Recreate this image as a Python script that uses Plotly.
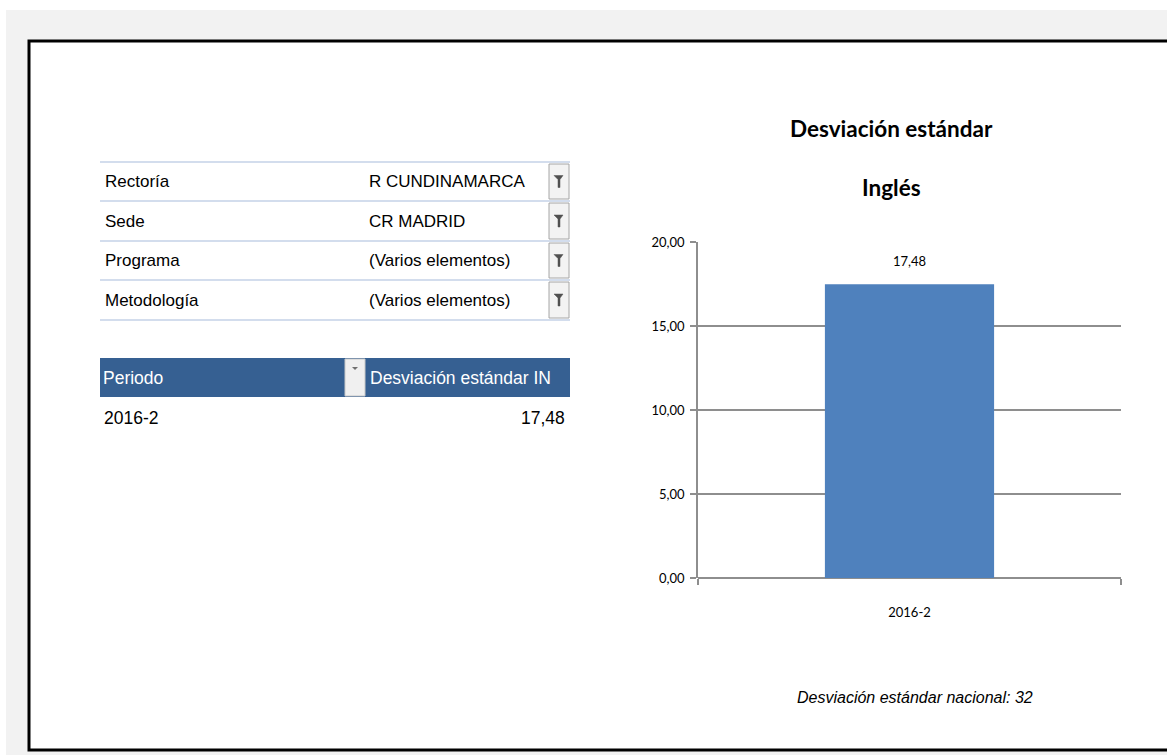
import plotly.graph_objects as go

# data
periods = ["2016-2"]
std_dev = [17.48]
filter_fields = ["Rectoría", "Sede", "Programa", "Metodología"]
filter_values = ["R CUNDINAMARCA", "CR MADRID", "(Varios elementos)", "(Varios elementos)"]
header_labels = ["Periodo", "Desviación estándar IN"]
national_std = 32
chart_title = ["Desviación estándar", "Inglés"]

W, H = 1167, 755
# plot area in page pixels
L, R, T, B = 698, 1121, 242, 578

FONT = "Liberation Sans Narrow, Arial Narrow, Liberation Sans, Arial"
CFONT = "Lato, Liberation Sans, Arial"
GRID = "#8e8e8e"


def px(x):
    return (x - L) / (R - L)


def py(y):
    return (B - y) / (B - T)


def fmt(v):
    return f"{v:.2f}".replace(".", ",")


fig = go.Figure(go.Bar(x=periods, y=std_dev, width=0.4,
                       marker=dict(color="#4f81bd", line=dict(width=0)),
                       hoverinfo="skip"))

shapes = []
ann = []

# grey window background + black framed sheet
shapes.append(dict(type="rect", xref="paper", yref="paper", layer="below",
                   x0=px(6), x1=px(W + 5), y0=py(10), y1=py(H + 5),
                   fillcolor="#f2f2f2", line=dict(width=0)))
shapes.append(dict(type="rect", xref="paper", yref="paper", layer="below",
                   x0=px(29), x1=px(W + 10), y0=py(41), y1=py(750),
                   fillcolor="white", line=dict(color="black", width=3)))

# report filter area
line_ys = [162, 201, 241, 280, 320]
for y in line_ys:
    shapes.append(dict(type="line", xref="paper", yref="paper",
                       x0=px(100), x1=px(570), y0=py(y), y1=py(y),
                       line=dict(color="#d3dded", width=2)))
for i, (name, val) in enumerate(zip(filter_fields, filter_values)):
    yc = (line_ys[i] + line_ys[i + 1]) / 2
    ann.append(dict(xref="paper", yref="paper", x=px(103), y=py(yc),
                    text=name, showarrow=False, xanchor="left", yanchor="middle",
                    font=dict(family=FONT, size=17, color="black")))
    ann.append(dict(xref="paper", yref="paper", x=px(367), y=py(yc),
                    text=val, showarrow=False, xanchor="left", yanchor="middle",
                    font=dict(family=FONT, size=17, color="black")))
    # filter button
    shapes.append(dict(type="rect", xref="paper", yref="paper",
                       x0=px(549), x1=px(569), y0=py(line_ys[i] + 2), y1=py(line_ys[i + 1] - 2),
                       fillcolor="#f3f3f3", line=dict(color="#a6a6a6", width=1)))
    cx = 559
    path = (f"M {px(cx - 5)},{py(yc - 6)} L {px(cx + 4)},{py(yc - 6)} L {px(cx + 1)},{py(yc - 2)} "
            f"L {px(cx + 1)},{py(yc + 6)} L {px(cx - 1)},{py(yc + 6)} L {px(cx - 1)},{py(yc - 2)} Z")
    shapes.append(dict(type="path", xref="paper", yref="paper", path=path,
                       fillcolor="#505050", line=dict(color="#505050", width=0.5)))

# pivot table header
shapes.append(dict(type="rect", xref="paper", yref="paper",
                   x0=px(100), x1=px(570), y0=py(358), y1=py(397),
                   fillcolor="#366092", line=dict(width=0)))
shapes.append(dict(type="rect", xref="paper", yref="paper",
                   x0=px(345), x1=px(365), y0=py(359), y1=py(396),
                   fillcolor="#f0f0f0", line=dict(color="#c8c8c8", width=1)))
shapes.append(dict(type="path", xref="paper", yref="paper",
                   path=f"M {px(352)},{py(367)} L {px(358)},{py(367)} L {px(355)},{py(370)} Z",
                   fillcolor="#707070", line=dict(width=0)))
ann.append(dict(xref="paper", yref="paper", x=px(101), y=py(378), text=header_labels[0],
                showarrow=False, xanchor="left", yanchor="middle",
                font=dict(family=FONT, size=17.5, color="white")))
ann.append(dict(xref="paper", yref="paper", x=px(368), y=py(378), text=header_labels[1],
                showarrow=False, xanchor="left", yanchor="middle",
                font=dict(family=FONT, size=17.5, color="white")))
for i, (p, v) in enumerate(zip(periods, std_dev)):
    yc = 418 + 40 * i
    ann.append(dict(xref="paper", yref="paper", x=px(102), y=py(yc), text=p,
                    showarrow=False, xanchor="left", yanchor="middle",
                    font=dict(family=FONT, size=17.5, color="black")))
    ann.append(dict(xref="paper", yref="paper", x=px(567), y=py(yc), text=fmt(v),
                    showarrow=False, xanchor="right", yanchor="middle",
                    font=dict(family=FONT, size=17.5, color="black")))

# chart title (two lines)
for txt, yc in zip(chart_title, [128, 188]):
    ann.append(dict(xref="paper", yref="paper", x=px(891), y=py(yc), text=f"<b>{txt}</b>",
                    showarrow=False, xanchor="center", yanchor="middle",
                    font=dict(family=CFONT, size=22.5, color="black")))

# data labels
for p, v in zip(periods, std_dev):
    ann.append(dict(x=p, y=v, text=fmt(v), showarrow=False, yshift=23,
                    xanchor="center", yanchor="middle",
                    font=dict(family=CFONT, size=13, color="black")))

# national reference note
ann.append(dict(xref="paper", yref="paper", x=px(915), y=py(697),
                text=f"<i>Desviación estándar nacional: {national_std}</i>",
                showarrow=False, xanchor="center", yanchor="middle",
                font=dict(family=FONT, size=16, color="black")))

fig.update_layout(
    width=W, height=H, autosize=False,
    margin=dict(l=L, r=W - R, t=T, b=H - B, pad=0),
    paper_bgcolor="white", plot_bgcolor="white",
    separators=",.",
    showlegend=False,
    shapes=shapes, annotations=ann,
    xaxis=dict(type="category", range=[-0.5, 0.5], automargin=False,
               showgrid=False, showline=False, zeroline=False,
               ticks="outside", tickson="boundaries", ticklen=6, tickcolor=GRID, tickwidth=1.5,
               ticklabelstandoff=25,
               tickfont=dict(family=CFONT, size=13, color="black")),
    yaxis=dict(range=[0, 20], dtick=5, tickformat=".2f", automargin=False,
               showgrid=True, gridcolor=GRID, gridwidth=1.8,
               showline=True, linecolor=GRID, linewidth=1.8,
               zeroline=True, zerolinecolor=GRID, zerolinewidth=1.8,
               ticks="outside", ticklen=6, tickcolor=GRID, tickwidth=1.5,
               ticklabelstandoff=3,
               tickfont=dict(family=CFONT, size=13, color="black")),
)

fig.write_html("out.html", config={"displayModeBar": False},
               post_script="document.body.style.margin='0';")
